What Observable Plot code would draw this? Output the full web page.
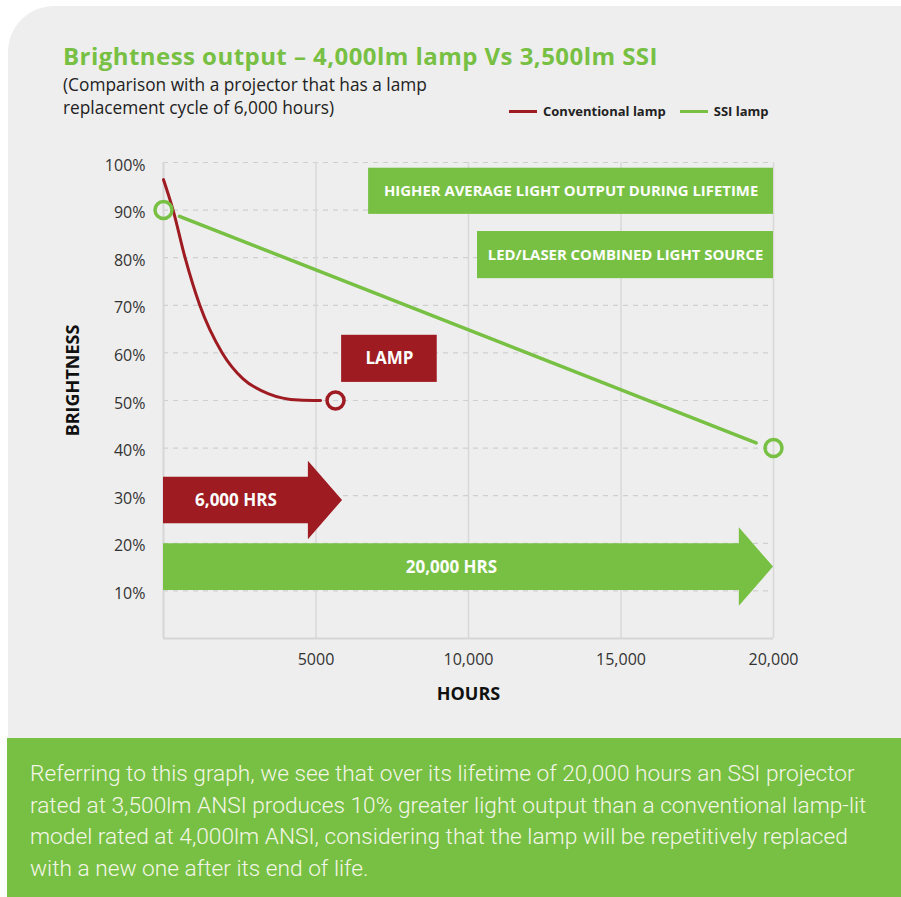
<!DOCTYPE html>
<html><head><meta charset="utf-8">
<script src="https://cdn.jsdelivr.net/npm/d3@7"></script>
<script src="https://cdn.jsdelivr.net/npm/@observablehq/plot@0.6"></script>
<style>
html,body{margin:0;padding:0;background:#fff;}
body{width:901px;height:897px;position:relative;overflow:hidden;font-family:"Open Sans",sans-serif;}
#panel{position:absolute;left:8px;top:6px;width:893px;height:732px;background:#eeeeee;border-top-left-radius:46px;}
#footer{position:absolute;left:7px;top:738px;width:894px;height:159px;background:#77c043;}
#footer p{margin:0;position:absolute;left:23px;top:20px;font-family:Roboto,sans-serif;font-weight:300;font-size:22.7px;line-height:31.5px;color:#f4f6e8;white-space:nowrap;}
#title{position:absolute;left:63px;top:42px;font-family:"Open Sans",sans-serif;font-weight:700;font-size:24px;line-height:28px;color:#77c043;white-space:nowrap;letter-spacing:0.45px;}
#subtitle{position:absolute;left:63px;top:73px;font-family:"Open Sans",sans-serif;font-size:17.3px;line-height:23px;color:#222;white-space:nowrap;}
#legend{position:absolute;left:509px;top:102px;font-family:"Open Sans",sans-serif;font-weight:700;font-size:13px;line-height:18px;color:#222;white-space:nowrap;}
#legend .sw{display:inline-block;width:28px;height:3px;vertical-align:middle;margin-right:6px;position:relative;top:-1px;}
#legend .item{display:inline-block;margin-right:14px;}
#chart{position:absolute;left:0;top:130px;}
</style>
</head><body>
<div id="panel"></div>
<div id="title">Brightness output – 4,000lm lamp Vs 3,500lm SSI</div>
<div id="subtitle">(Comparison with a projector that has a lamp<br>replacement cycle of 6,000 hours)</div>
<div id="legend"></div>
<div id="chart"></div>
<div id="footer"><p>Referring to this graph, we see that over its lifetime of 20,000 hours an SSI projector<br>rated at 3,500lm ANSI produces 10% greater light output than a conventional lamp-lit<br>model rated at 4,000lm ANSI, considering that the lamp will be repetitively replaced<br>with a new one after its end of life.</p></div>
<script>
// ---- data ----
const seriesNames = ["Conventional lamp", "SSI lamp"];
const yTicks = [10, 20, 30, 40, 50, 60, 70, 80, 90, 100];
const xTicks = [5000, 10000, 15000, 20000];
const xTickLabels = ["5000", "10,000", "15,000", "20,000"];

const lampHours = [0, 314, 707, 1190, 1925, 2600, 3450, 4430, 5153];
const lampBrightness = [96.4, 90, 80, 70, 60, 54.6, 51.4, 50.1, 50];

const ssiHours = [524, 19430];
const ssiBrightness = [88.7, 41.1];

const markerSeries = ["SSI lamp", "Conventional lamp", "SSI lamp"];
const markerHours = [0, 5640, 20000];
const markerBrightness = [90, 50, 40];

const arrowLabels = ["6,000 HRS", "20,000 HRS"];
const arrowSeries = ["Conventional lamp", "SSI lamp"];
const arrowEndHours = [5870, 20000];
const arrowLevel = [29, 15];

const boxLabels = ["HIGHER AVERAGE LIGHT OUTPUT DURING LIFETIME", "LED/LASER COMBINED LIGHT SOURCE", "LAMP"];
const boxSeries = ["SSI lamp", "SSI lamp", "Conventional lamp"];
const boxHours1 = [6725, 10295, 5840];
const boxHours2 = [20000, 20000, 8975];
const boxLow = [89.1, 75.6, 53.8];
const boxHigh = [98.8, 85.5, 63.7];

// ---- styles ----
const RED = "#9e1b21", GREEN = "#77c043";
const colorOf = s => s === "SSI lamp" ? GREEN : RED;
const BODY = 4.9, HEAD = 8.25, HEAD_LEN = 1120;

// ---- legend ----
document.getElementById("legend").innerHTML = seriesNames.map(s =>
  `<span class="item"><span class="sw" style="background:${colorOf(s)}"></span>${s}</span>`).join("");

// ---- tables ----
const lamp = lampHours.map((h, i) => ({hours: h, brightness: lampBrightness[i]}));
const ssi = ssiHours.map((h, i) => ({hours: h, brightness: ssiBrightness[i]}));
const markers = markerHours.map((h, i) => ({series: markerSeries[i], hours: h, brightness: markerBrightness[i]}));
const arrows = arrowLabels.map((l, i) => ({label: l, series: arrowSeries[i], end: arrowEndHours[i], level: arrowLevel[i]}));
const arrowShapes = arrows.flatMap(a => {
  const base = a.end - HEAD_LEN;
  return [
    {id: a.label, series: a.series, x: 0, y1: a.level - BODY, y2: a.level + BODY},
    {id: a.label, series: a.series, x: base, y1: a.level - BODY, y2: a.level + BODY},
    {id: a.label, series: a.series, x: base, y1: a.level - HEAD, y2: a.level + HEAD},
    {id: a.label, series: a.series, x: a.end, y1: a.level, y2: a.level}
  ];
});
const boxes = boxLabels.map((l, i) => ({label: l, series: boxSeries[i], x1: boxHours1[i], x2: boxHours2[i], y1: boxLow[i], y2: boxHigh[i]}));
const xLabelMap = new Map(xTicks.map((t, i) => [t, xTickLabels[i]]));

const chart = Plot.plot({
  width: 901, height: 590,
  marginLeft: 163, marginRight: 128, marginTop: 32, marginBottom: 82,
  style: {background: "transparent", fontFamily: "'Open Sans', sans-serif", overflow: "visible"},
  x: {domain: [0, 20000]},
  y: {domain: [0, 100]},
  marks: [
    Plot.gridY(yTicks, {stroke: "#cfcfcf", strokeOpacity: 1, strokeWidth: 1.2, strokeDasharray: "5,5"}),
    Plot.gridX(xTicks, {stroke: "#d8d8d8", strokeOpacity: 1, strokeWidth: 1.5}),
    Plot.ruleX([0], {stroke: "#d6d6d6", strokeWidth: 2}),
    Plot.ruleY([0], {stroke: "#d6d6d6", strokeWidth: 2}),
    Plot.axisY(yTicks, {tickSize: 0, tickPadding: 18, tickFormat: d => d + "%", fontSize: 16, fill: "#333", dy: 3, label: null}),
    Plot.axisX(xTicks, {tickSize: 0, tickPadding: 15, tickFormat: d => xLabelMap.get(d), fontSize: 16, fill: "#333", label: null}),
    Plot.text(["HOURS"], {frameAnchor: "bottom", textAnchor: "middle", lineAnchor: "middle", dy: 56, fontSize: 18, fontWeight: 700, fill: "#111"}),
    Plot.text(["BRIGHTNESS"], {frameAnchor: "left", textAnchor: "middle", lineAnchor: "middle", rotate: -90, dx: -90, dy: -20, fontSize: 18, fontWeight: 700, fill: "#111"}),
    // arrows
    ...arrows.map(a => Plot.areaY(arrowShapes.filter(d => d.id === a.label), {x: "x", y1: "y1", y2: "y2", fill: colorOf(a.series), curve: "linear"})),
    Plot.text(arrows, {x: d => (d.end - HEAD_LEN) / 2, y: "level", text: "label", fill: "white", fontWeight: 700, fontSize: 17}),
    // boxes
    Plot.rect(boxes, {x1: "x1", x2: "x2", y1: "y1", y2: "y2", fill: d => colorOf(d.series)}),
    Plot.text(boxes.filter(d => d.label !== "LAMP"), {x: d => (d.x1 + d.x2) / 2, y: d => (d.y1 + d.y2) / 2, text: "label", fill: "white", fontWeight: 700, fontSize: 14.9}),
    Plot.text(boxes.filter(d => d.label === "LAMP"), {x: d => (d.x1 + d.x2) / 2, y: d => (d.y1 + d.y2) / 2, text: "label", fill: "white", fontWeight: 700, fontSize: 17}),
    // lines
    Plot.line(lamp, {x: "hours", y: "brightness", stroke: RED, strokeWidth: 3, curve: "monotone-x"}),
    Plot.line(ssi, {x: "hours", y: "brightness", stroke: GREEN, strokeWidth: 3.5}),
    Plot.dot(markers.filter(d => d.series === "Conventional lamp"), {x: "hours", y: "brightness", r: 8.5, stroke: RED, strokeWidth: 3.5, fill: "none"}),
    Plot.dot(markers.filter(d => d.series === "SSI lamp"), {x: "hours", y: "brightness", r: 8.5, stroke: GREEN, strokeWidth: 3.5, fill: "none"})
  ]
});
document.getElementById("chart").appendChild(chart);
</script>
</body></html>
